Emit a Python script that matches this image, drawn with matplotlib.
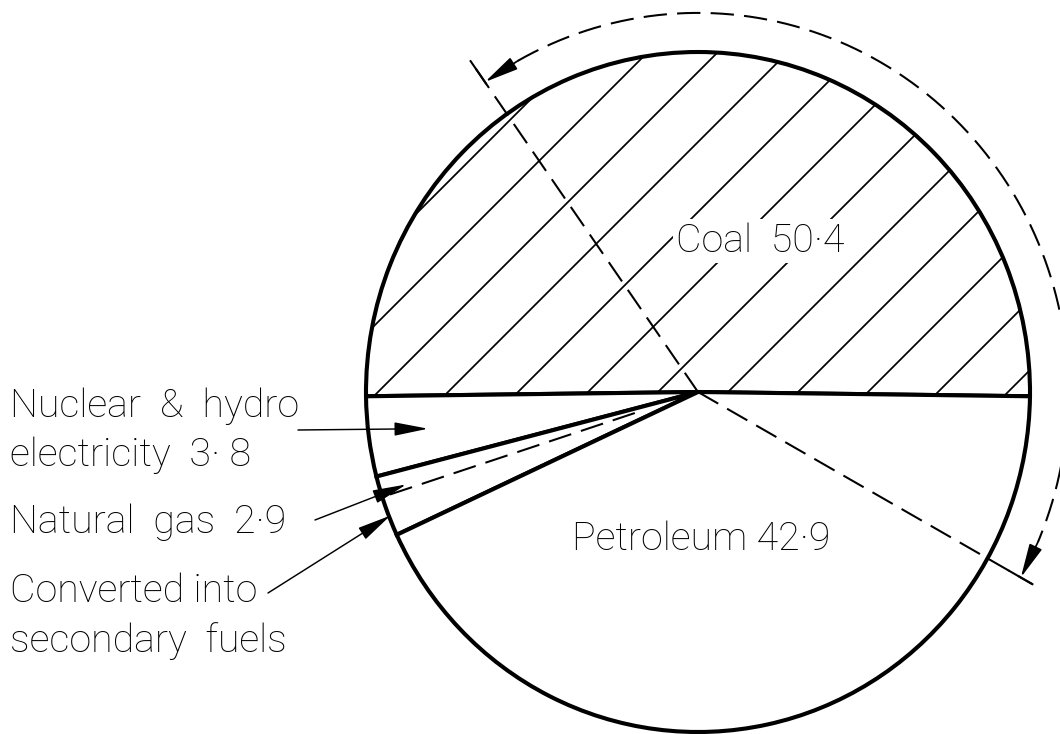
import numpy as np
import matplotlib
matplotlib.use('Agg')
from matplotlib import pyplot as plt

# 燃料构成 (%)
fuels = ['Coal', 'Nuclear & hydro electricity', 'Natural gas', 'Petroleum']
shares = [50.4, 3.8, 2.9, 42.9]
gas_converted = 1.9   # 天然气中转为二次燃料的部分

labels_left = ['Nuclear  &  hydro\nelectricity  3· 8',
               'Natural  gas  2·9',
               'Converted into\nsecondary  fuels']
label_coal = 'Coal  50·4'
label_petrol = 'Petroleum 42·9'

plt.rcParams['font.family'] = ['Roboto', 'DejaVu Sans']
plt.rcParams['font.weight'] = 'light'
plt.rcParams['hatch.linewidth'] = 0.6
plt.rcParams['lines.scale_dashes'] = False

DPI = 210
fig = plt.figure(figsize=(1060 / DPI, 734 / DPI), dpi=DPI)
ax = fig.add_axes([0, 0, 1, 1])

# 煤占上半圆, 两端对称
start = -(shares[0] * 3.6 - 180) / 2
wedges, _ = ax.pie(shares, startangle=start, counterclock=True, radius=1,
                   colors=['white'] * 4, hatch=['/', '', '', ''],
                   wedgeprops=dict(edgecolor='black', linewidth=1.4))

ax.set_aspect('auto')
ax.set_xlim(-698 / 332, (1060 - 698) / 332)
ax.set_ylim(-(734 - 392) / 340, 392 / 340)
ax.axis('off')

# 各分界角度
angles = start + np.cumsum([0] + shares) * 3.6
dash = (0, (8, 3.5))


def pol(r, a):
    return r * np.cos(np.radians(a)), r * np.sin(np.radians(a))


# 天然气中的虚线分界
a_gas = angles[3] - gas_converted * 3.6
x0, y0 = pol(0.2, a_gas)
x1, y1 = pol(1.0, a_gas)
ax.plot([x0, x1], [y0, y1], color='k', lw=0.7, ls=dash)

# 石油份额的尺寸线
lo = -29.3
hi = lo + shares[3] * 3.6
for a, r in [(hi, 1.19), (lo, 1.155)]:
    xe, ye = pol(r, a)
    ax.plot([0, xe], [0, ye], color='k', lw=0.7, ls=dash)
    xt, yt = pol(r - 0.08, a)
    ax.plot([xt, xe], [yt, ye], color='k', lw=0.7)

R = 1.115
t = np.linspace(hi - 6, lo + 6, 200)
ax.plot(R * np.cos(np.radians(t)), R * np.sin(np.radians(t)), color='k', lw=0.7, ls=dash)
for a_tip, a_tail in [(hi, hi - 6), (lo, lo + 6)]:
    ax.annotate('', xy=pol(R, a_tip), xytext=pol(R, a_tail),
                arrowprops=dict(arrowstyle='-|>,head_length=0.5,head_width=0.1',
                                color='k', lw=0.6, shrinkA=0, shrinkB=0, mutation_scale=20))

# 标注文字
fs = 13.5
X_left = (10 - 698) / 332


def put_lines(text, y_base, step=(466 - 417) / 340):
    for i, line in enumerate(text.split('\n')):
        ax.text(X_left, y_base - i * step, line, fontsize=fs, ha='left', va='baseline')


put_lines(labels_left[0], (392 - 417) / 340)
put_lines(labels_left[1], (392 - 533) / 340)
put_lines(labels_left[2], (392 - 602) / 340, step=(652 - 602) / 340)

arrow_kw = dict(arrowstyle='-|>,head_length=0.5,head_width=0.1', color='k',
                lw=0.5, shrinkA=0, shrinkB=0, mutation_scale=20)
mid_nuc = (angles[1] + angles[2]) / 2
ax.annotate('', xy=pol(0.82, mid_nuc), xytext=((298 - 698) / 332, (392 - 430) / 340), arrowprops=arrow_kw)
ax.annotate('', xy=pol(0.92, (angles[2] + a_gas) / 2 + 1), xytext=((315 - 698) / 332, (392 - 520) / 340),
            arrowprops=arrow_kw)
ax.annotate('', xy=pol(0.995, (a_gas + angles[3]) / 2), xytext=((268 - 698) / 332, (392 - 593) / 340),
            arrowprops=arrow_kw)

ax.text((760 - 698) / 332, (392 - 241) / 340, label_coal, fontsize=fs, ha='center', va='center',
        bbox=dict(facecolor='white', edgecolor='none', pad=1))
ax.text((701 - 698) / 332, (392 - 539) / 340, label_petrol, fontsize=fs, ha='center', va='center')

fig.savefig('out.png', dpi=DPI)
